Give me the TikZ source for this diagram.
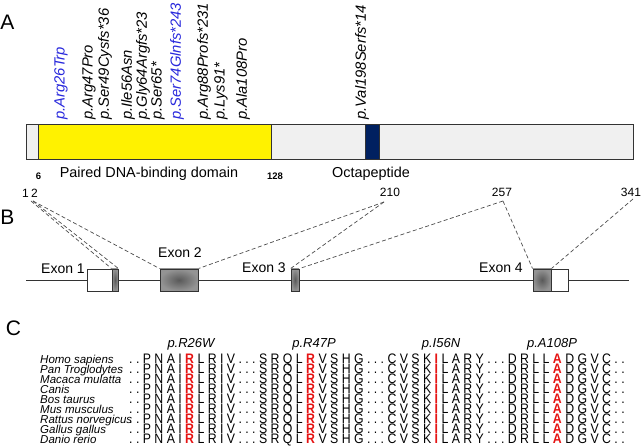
\documentclass[tikz,border=0pt]{standalone}
\usepackage{fontspec}
\setmainfont{Liberation Sans}
\frenchspacing
\definecolor{mutblue}{RGB}{40,40,220}
\definecolor{mutred}{RGB}{230,20,20}
\definecolor{octanavy}{RGB}{0,32,96}
\definecolor{barfill}{RGB}{240,240,240}
\newcommand\mutres[1]{\textcolor{mutred}{\textbf{#1}}}
\newcommand\seqline{. . P N A I \mutres{R} L R I V . . . S R Q L \mutres{R} V S H G . . . C V S K \mutres{I} L A R Y . . . D R L L \mutres{A} D G V C . .}
\tikzset{
  panel/.style={font=\fontsize{21}{21}\selectfont, inner sep=0pt},
  mutlabel/.style={rotate=90, anchor=west, inner sep=0pt, font=\itshape\fontsize{14.8}{15}\selectfont},
  domlabel/.style={anchor=base, inner sep=0pt, font=\fontsize{14.4}{14}\selectfont},
  posnum/.style={inner sep=0pt, font=\bfseries\fontsize{9.5}{9.5}\selectfont},
  exonutr/.style={draw=black!80, line width=0.9pt, minimum height=22pt, inner sep=0pt, fill=white},
  exoncds/.style={draw=black!80, line width=0.9pt, minimum height=22pt, inner sep=0pt, shading=radial, inner color=black!65, outer color=black!42},
  exonname/.style={inner sep=0pt, font=\fontsize{14}{14}\selectfont},
  aanum/.style={inner sep=0pt, font=\fontsize{12}{12}\selectfont},
  mapline/.style={dash pattern=on 4pt off 2.5pt, line width=0.7pt, black!70},
  species/.style={anchor=base west, inner sep=0pt, text height=8pt, text depth=1.5pt, font=\itshape\fontsize{11.5}{10}\selectfont},
  seqrow/.style={anchor=base west, inner sep=0pt, text height=8.2pt, text depth=1.2pt, font=\fontsize{12.3}{10}\selectfont},
  sitelabel/.style={anchor=base, inner sep=0pt, font=\itshape\fontsize{13}{13}\selectfont}
}
\begin{document}
\begin{tikzpicture}[x=1pt,y=-1pt]
\useasboundingbox (0,0) rectangle (643,446);
% panel A: protein
\node[panel] (lblA) at (7.5,22.5) {A};
\draw [fill = barfill, draw = black!80, line width = 0.9pt] (26,124) rectangle (633,159);
\draw [fill = yellow, draw = black!80, line width = 0.9pt] (38,124) rectangle (271,159);
\draw [fill = octanavy, draw = black!80, line width = 0.6pt] (365,124) rectangle (379,159);
\foreach \xpos/\txt/\col in {61/p.Arg26Trp/mutblue, 89/p.Arg47Pro/black, 105/p.Ser49Cysfs*36/black,
  128/p.Ile56Asn/black, 143/p.Gly64Argfs*23/black, 158/p.Ser65*/black, 177/p.Ser74Glnfs*243/mutblue,
  204/p.Arg88Profs*231/black, 221/p.Lys91*/black, 243/p.Ala108Pro/black, 362/p.Val198Serfs*14/black}
  \node[mutlabel, text=\col] (mut\xpos) at (\xpos,120) {\txt};
\node[posnum] (pos6) at (38.5,176) {6};
\node[posnum] (pos128) at (275,176) {128};
\node[domlabel] (paired) at (149,178) {Paired DNA-binding domain};
\node[domlabel] (octa) at (371,178) {Octapeptide};
% panel B: gene
\node[panel] (lblB) at (7.5,217.5) {B};
\coordinate (gstart) at (26,280);
\coordinate (gend) at (629,280);
\draw [line width = 0.9pt, black!80] (gstart) -- (gend);
\node[exonutr, minimum width=25pt] (ex1a) at (99.5,280) {};
\node[exoncds, minimum width=6pt] (ex1b) at (115,280) {};
\node[exoncds, minimum width=38pt] (ex2) at (179,280) {};
\node[exoncds, minimum width=8pt] (ex3) at (295,280) {};
\node[exoncds, minimum width=18pt] (ex4a) at (542,280) {};
\node[exonutr, minimum width=17pt] (ex4b) at (559.5,280) {};
\node[exonname] (ex1name) at (63,269) {Exon 1};
\node[exonname] (ex2name) at (180,253) {Exon 2};
\node[exonname] (ex3name) at (264,268) {Exon 3};
\node[exonname] (ex4name) at (501,268) {Exon 4};
\node[aanum] (aa1) at (25.5,193) {1};
\node[aanum] (aa2) at (34.5,193) {2};
\node[aanum] (aa210) at (390,192) {210};
\node[aanum] (aa257) at (502,192) {257};
\node[aanum] (aa341) at (631,192) {341};
\coordinate (v1) at (31,201);
\coordinate (v2) at (33,201);
\coordinate (v210) at (384,202);
\coordinate (v257) at (503,201);
\coordinate (v341) at (633,199);
\draw[mapline] (v1) -- (ex1b.north west);
\draw[mapline] (v2) -- (ex1b.north east);
\draw[mapline] (v2) -- (ex2.north west);
\draw[mapline] (v210) -- (ex2.north east);
\draw[mapline] (v210) -- (ex3.north west);
\draw[mapline] (v257) -- (ex3.north east);
\draw[mapline] (v257) -- (ex4a.north west);
\draw[mapline] (v341) -- (ex4a.north east);
% panel C: alignment
\node[panel] (lblC) at (13.5,328.5) {C};
\node[sitelabel] (siteR26W) at (191,348) {p.R26W};
\node[sitelabel] (siteR47P) at (314,348) {p.R47P};
\node[sitelabel] (siteI56N) at (441,348) {p.I56N};
\node[sitelabel] (siteA108P) at (552,348) {p.A108P};
\foreach \sp [count=\i from 0] in {Homo sapiens, Pan Troglodytes, Macaca mulatta, Canis, Bos taurus,
  Mus musculus, Rattus norvegicus, Gallus gallus, Danio rerio} {
  \pgfmathsetmacro\ybase{364+9.9*\i}
  \node[species] (sp\i) at (40,\ybase) {\sp};
  \node[seqrow] (seq\i) at (129,\ybase) {\scalebox{1}[1.12]{\seqline}};
}
\end{tikzpicture}
\end{document}
